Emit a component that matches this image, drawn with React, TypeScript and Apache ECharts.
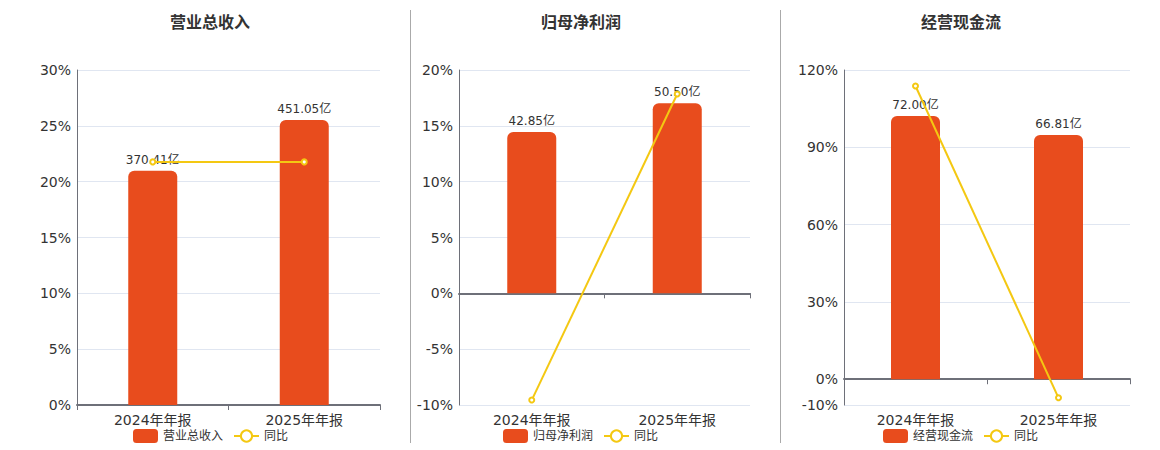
import React, { useEffect, useRef } from "react";
import * as echarts from "echarts";

const categories = ["2024年年报", "2025年年报"];

const revenueName = "营业总收入";
const revenueValues = [370.41, 451.05];
const revenueYoY = [21.77, 21.77];

const profitName = "归母净利润";
const profitValues = [42.85, 50.5];
const profitYoY = [-9.56, 17.85];

const cashName = "经营现金流";
const cashValues = [72.0, 66.81];
const cashYoY = [113.8, -7.21];

const pctAxes = [
  { min: 0, max: 30, ticks: [0, 5, 10, 15, 20, 25, 30] },
  { min: -10, max: 20, ticks: [-10, -5, 0, 5, 10, 15, 20] },
  { min: -10, max: 120, ticks: [-10, 0, 30, 60, 90, 120] },
];

const FONT = "DejaVu Sans, Noto Sans CJK SC, sans-serif";
const BAR_COLOR = "#E84C1D";
const LINE_COLOR = "#F4C812";
const TEXT = "#333333";
const AXIS = "#6E7079";

const panels = [
  { name: revenueName, values: revenueValues, yoy: revenueYoY, left: 77, right: 380, center: 210, legendLeft: 133 },
  { name: profitName, values: profitValues, yoy: profitYoY, left: 459, right: 750, center: 581, legendLeft: 503 },
  { name: cashName, values: cashValues, yoy: cashYoY, left: 844, right: 1130, center: 961, legendLeft: 883 },
];

export default function App() {
  const ref = useRef<HTMLDivElement>(null);
  useEffect(() => {
    document.body.style.margin = "0";
    if (!ref.current) return;
    const chart = echarts.init(ref.current, null, { renderer: "svg" });
    const grid: any[] = [];
    const xAxis: any[] = [];
    const yAxis: any[] = [];
    const series: any[] = [];
    const title: any[] = [];
    const legend: any[] = [];
    panels.forEach((p, i) => {
      const pa = pctAxes[i];
      grid.push({ left: p.left, width: p.right - p.left, top: 70, height: 335 });
      xAxis.push({
        type: "category",
        gridIndex: i,
        data: categories,
        axisLine: { lineStyle: { color: AXIS, width: 2 } },
        axisTick: { show: true, length: 5, lineStyle: { color: AXIS } },
        axisLabel: { fontSize: 14, color: TEXT, fontFamily: FONT, margin: 8 },
        splitLine: { show: false },
      });
      yAxis.push({
        type: "value",
        gridIndex: i,
        min: pa.min,
        max: pa.max,
        axisLine: { show: true, lineStyle: { color: AXIS, width: 1 } },
        axisTick: { show: false, customValues: pa.ticks },
        axisLabel: {
          customValues: pa.ticks,
          formatter: "{value}%",
          fontSize: 14,
          color: TEXT,
          fontFamily: FONT,
          margin: 6,
        },
        splitLine: { show: true, lineStyle: { color: "#E0E6F1" } },
      });
      const barMax = Math.max(...p.values) * 1.175;
      const barMin = (pa.min / pa.max) * barMax;
      yAxis.push({
        type: "value",
        gridIndex: i,
        min: barMin,
        max: barMax,
        show: false,
        splitLine: { show: false },
      });
      series.push({
        type: "bar",
        name: p.name,
        xAxisIndex: i,
        yAxisIndex: i * 2 + 1,
        data: p.values,
        barWidth: 49,
        itemStyle: { color: BAR_COLOR, borderRadius: [6, 6, 0, 0] },
        label: {
          show: true,
          position: "top",
          distance: 5,
          fontSize: 12,
          color: TEXT,
          fontFamily: FONT,
          formatter: (d: any) => Number(d.value).toFixed(2) + "亿",
        },
        z: 2,
      });
      series.push({
        type: "line",
        name: "同比",
        xAxisIndex: i,
        yAxisIndex: i * 2,
        data: p.yoy,
        symbol: "emptyCircle",
        symbolSize: 5,
        lineStyle: { color: LINE_COLOR, width: 2 },
        itemStyle: { color: LINE_COLOR },
        z: 5,
      });
      title.push({
        text: p.name,
        left: p.center - 5,
        textAlign: "center",
        top: 9,
        textStyle: { fontSize: 16, fontWeight: "bold", color: TEXT, fontFamily: FONT },
      });
      legend.push({
        data: [p.name, "同比"],
        left: p.legendLeft - 5,
        top: 424,
        itemWidth: 25,
        itemHeight: 14,
        itemGap: 10,
        textStyle: { fontSize: 12, color: TEXT, fontFamily: FONT },
      });
    });
    chart.setOption({
      animation: false,
      textStyle: { fontFamily: FONT },
      title,
      legend,
      grid,
      xAxis,
      yAxis,
      series,
      graphic: [
        { type: "line", shape: { x1: 410.5, y1: 10, x2: 410.5, y2: 443 }, style: { stroke: "#AAAAAA", lineWidth: 1 } },
        { type: "line", shape: { x1: 780.5, y1: 10, x2: 780.5, y2: 443 }, style: { stroke: "#AAAAAA", lineWidth: 1 } },
      ],
    });
    return () => chart.dispose();
  }, []);
  return <div ref={ref} style={{ width: 1160, height: 450 }} />;
}
